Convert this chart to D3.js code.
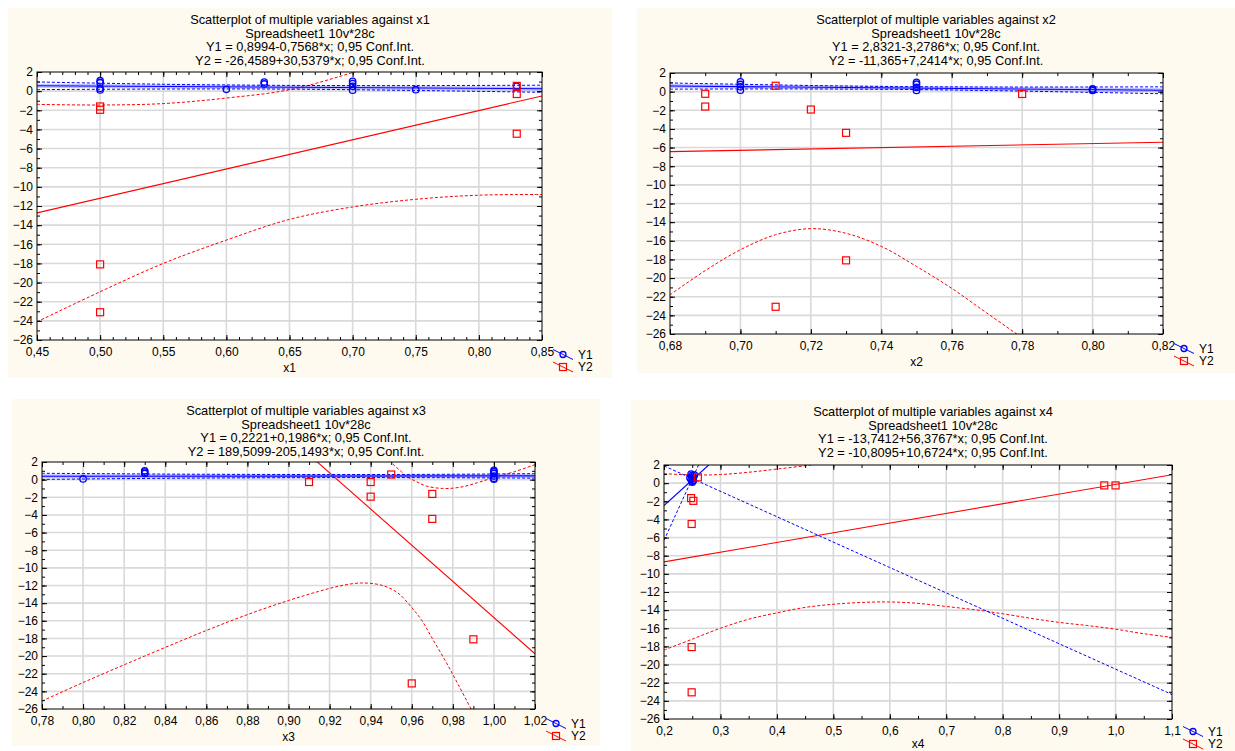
<!DOCTYPE html>
<html>
<head>
<meta charset="utf-8">
<script src="https://cdn.jsdelivr.net/npm/d3@7"></script>
<style>
body { margin: 0; background: #ffffff; }
svg { display: block; font-family: "Liberation Sans", Arial, sans-serif; }
</style>
</head>
<body>
<div id="chart"></div>
<script>
//------------------------------DATA------------------------------//
// y axis is the same on all four panels
var yTicks = [2, 0, -2, -4, -6, -8, -10, -12, -14, -16, -18, -20, -22, -24, -26];

// --- panel x1
var x1Ticks = [0.45, 0.50, 0.55, 0.60, 0.65, 0.70, 0.75, 0.80, 0.85];
var x1Title = ["Scatterplot of multiple variables against x1", "Spreadsheet1 10v*28c",
               "Y1 = 0,8994-0,7568*x; 0,95 Conf.Int.", "Y2 = -26,4589+30,5379*x; 0,95 Conf.Int."];
var x1Y1 = [[0.50,1.09],[0.50,0.88],[0.50,0.29],[0.50,0.12],[0.60,0.19],[0.63,0.95],[0.63,0.75],
            [0.70,1.03],[0.70,0.80],[0.70,0.50],[0.70,0.10],[0.75,0.15],[0.83,0.50]];
var x1Y2 = [[0.50,-1.6],[0.50,-1.95],[0.50,-18.1],[0.50,-23.1],[0.83,0.55],[0.83,-0.3],[0.83,-4.45]];
var x1Fit1 = [[0.45,0.559],[0.85,0.256]];
var x1Ci1Hi = [[0.45,0.96],[0.55,0.72],[0.65,0.60],[0.75,0.58],[0.85,0.62]];
var x1Ci1Lo = [[0.45,0.16],[0.55,0.22],[0.65,0.21],[0.75,0.07],[0.85,-0.12]];
var x1Fit2 = [[0.45,-12.72],[0.85,-0.50]];
var x1Ci2Hi = [[0.45,-1.38],[0.50,-1.45],[0.55,-1.3],[0.60,-0.72],[0.65,0.15],[0.70,1.95],[0.75,4.2]];
var x1Ci2Lo = [[0.45,-24.1],[0.50,-20.96],[0.55,-18.0],[0.60,-15.56],[0.65,-13.4],[0.70,-12.1],
               [0.75,-11.3],[0.80,-10.87],[0.85,-10.8]];

// --- panel x2
var x2Ticks = [0.68, 0.70, 0.72, 0.74, 0.76, 0.78, 0.80, 0.82];
var x2Title = ["Scatterplot of multiple variables against x2", "Spreadsheet1 10v*28c",
               "Y1 = 2,8321-3,2786*x; 0,95 Conf.Int.", "Y2 = -11,365+7,2414*x; 0,95 Conf.Int."];
var x2Y1 = [[0.70,1.05],[0.70,0.77],[0.70,0.52],[0.70,0.16],[0.75,1.0],[0.75,0.8],[0.75,0.45],
            [0.75,0.12],[0.80,0.3],[0.80,0.2],[0.80,0.12]];
var x2Y2 = [[0.69,-0.23],[0.69,-1.6],[0.71,0.63],[0.72,-1.92],[0.73,-4.42],[0.73,-18.1],[0.71,-23.08],[0.78,-0.25]];
var x2Fit1 = [[0.68,0.603],[0.82,0.144]];
var x2Ci1Hi = [[0.68,0.93],[0.70,0.79],[0.72,0.66],[0.745,0.54],[0.77,0.50],[0.80,0.50],[0.82,0.515]];
var x2Ci1Lo = [[0.68,0.27],[0.70,0.285],[0.72,0.284],[0.745,0.24],[0.77,0.12],[0.80,-0.08],[0.82,-0.23]];
var x2Fit2 = [[0.68,-6.44],[0.82,-5.43]];
var x2Ci2Hi = [];
var x2Ci2Lo = [[0.68,-21.8],[0.69,-19.2],[0.70,-16.96],[0.71,-15.35],[0.72,-14.7],[0.73,-15.2],
               [0.74,-16.6],[0.75,-18.75],[0.76,-21.1],[0.77,-23.76],[0.78,-26.4]];

// --- panel x3
var x3Ticks = [0.78, 0.80, 0.82, 0.84, 0.86, 0.88, 0.90, 0.92, 0.94, 0.96, 0.98, 1.00, 1.02];
var x3Title = ["Scatterplot of multiple variables against x3", "Spreadsheet1 10v*28c",
               "Y1 = 0,2221+0,1986*x; 0,95 Conf.Int.", "Y2 = 189,5099-205,1493*x; 0,95 Conf.Int."];
var x3Y1 = [[0.80,0.08],[0.83,1.0],[0.83,0.85],[0.83,0.7],[1.00,1.05],[1.00,0.9],[1.00,0.7],
            [1.00,0.4],[1.00,0.15],[1.00,0.05]];
var x3Y2 = [[0.91,-0.27],[0.94,-0.27],[0.94,-1.93],[0.95,0.58],[0.97,-1.62],[0.97,-4.45],[0.96,-23.1],[0.99,-18.1]];
var x3Fit1 = [[0.78,0.377],[1.02,0.425]];
var x3Ci1Hi = [[0.78,0.72],[0.85,0.62],[0.92,0.58],[0.97,0.60],[1.02,0.68]];
var x3Ci1Lo = [[0.78,0.03],[0.85,0.17],[0.92,0.23],[0.97,0.22],[1.02,0.17]];
var x3Fit2 = [[0.78,29.49],[1.02,-19.74]];
var x3Ci2Hi = [[0.945,3.6],[0.95,1.95],[0.954,1.1],[0.958,0.3],[0.962,-0.2],[0.967,-0.72],[0.975,-1.0],
               [0.983,-0.88],[0.992,-0.35],[1.00,0.25],[1.01,0.9],[1.02,1.7]];
var x3Ci2Lo = [[0.78,-25.1],[0.80,-23.0],[0.83,-20.0],[0.86,-17.1],[0.88,-15.3],[0.90,-13.7],[0.915,-12.65],
               [0.925,-12.05],[0.935,-11.72],[0.945,-11.95],[0.953,-12.8],[0.96,-14.5],[0.965,-16.0],
               [0.97,-18.0],[0.977,-20.8],[0.983,-23.4],[0.99,-26.5]];

// --- panel x4
var x4Ticks = [0.2, 0.3, 0.4, 0.5, 0.6, 0.7, 0.8, 0.9, 1.0, 1.1];
var x4Title = ["Scatterplot of multiple variables against x4", "Spreadsheet1 10v*28c",
               "Y1 = -13,7412+56,3767*x; 0,95 Conf.Int.", "Y2 = -10,8095+10,6724*x; 0,95 Conf.Int."];
var x4Y1 = [[0.248,1.0],[0.25,0.85],[0.252,0.7],[0.25,0.55],[0.248,0.4],[0.252,0.3],[0.25,0.2],
            [0.25,0.1],[0.254,0.9],[0.246,0.6]];
var x4Y2 = [[0.248,-1.65],[0.252,-1.95],[0.249,-4.5],[0.249,-18.07],[0.249,-23.06],[0.26,0.64],[0.98,-0.25],[1.0,-0.25]];
var x4Fit1 = [[0.2,-2.466],[0.2792,2]];
var x4Ci1Hi = [[0.2,-6.3],[0.25,0.5],[0.265,2.5]];
var x4Ci1Lo = [[0.2,1.9],[0.25,0.5],[0.4,-3.7],[0.6,-9.3],[0.8,-14.9],[1.1,-23.3]];
var x4Fit2 = [[0.2,-8.675],[1.1,0.93]];
var x4Ci2Hi = [[0.2,1.05],[0.25,0.9],[0.3,0.95],[0.35,1.2],[0.4,1.55],[0.46,2.0],[0.5,2.4]];
var x4Ci2Lo = [[0.2,-18.4],[0.25,-17.2],[0.3,-16.0],[0.35,-15.0],[0.4,-14.3],[0.45,-13.7],[0.5,-13.35],
               [0.55,-13.15],[0.6,-13.1],[0.65,-13.25],[0.7,-13.6],[0.75,-13.95],[0.8,-14.4],[0.85,-14.9],
               [0.9,-15.35],[0.95,-15.7],[1.0,-16.1],[1.05,-16.6],[1.1,-17.0]];

//-----------------------------LAYOUT-----------------------------//
// bg = cream panel [x, y, w, h], box = plot frame [left, top, right, bottom]
var panels = [
    { name: "x1", title: x1Title, xTicks: x1Ticks, minor: 0.01, dec: 2, band: true,
      y1: x1Y1, y2: x1Y2, fit1: x1Fit1, ci1: [x1Ci1Hi, x1Ci1Lo], fit2: x1Fit2, ci2: [x1Ci2Hi, x1Ci2Lo],
      bg: [8, 8, 604, 370], box: [37, 72, 542, 340] },
    { name: "x2", title: x2Title, xTicks: x2Ticks, minor: 0.01, dec: 2, band: true,
      y1: x2Y1, y2: x2Y2, fit1: x2Fit1, ci1: [x2Ci1Hi, x2Ci1Lo], fit2: x2Fit2, ci2: [x2Ci2Hi, x2Ci2Lo],
      bg: [637, 8, 598, 365], box: [670, 73, 1163, 334] },
    { name: "x3", title: x3Title, xTicks: x3Ticks, minor: 0.01, dec: 2, band: true,
      y1: x3Y1, y2: x3Y2, fit1: x3Fit1, ci1: [x3Ci1Hi, x3Ci1Lo], fit2: x3Fit2, ci2: [x3Ci2Hi, x3Ci2Lo],
      bg: [12, 399, 588, 347], box: [42, 462, 535, 709] },
    { name: "x4", title: x4Title, xTicks: x4Ticks, minor: 0.05, dec: 1, band: false,
      y1: x4Y1, y2: x4Y2, fit1: x4Fit1, ci1: [x4Ci1Hi, x4Ci1Lo], fit2: x4Fit2, ci2: [x4Ci2Hi, x4Ci2Lo],
      bg: [631, 400, 604, 351], box: [664, 465, 1172, 719] }
];

var BLUE = "#0000ff", RED = "#ff0000", CREAM = "#fffaef", GRID = "#d9d9d9";
var FONT = "'Liberation Sans', Arial, sans-serif";
var BOTTOM_MAX = 744; // keep the lowest texts inside the window

var svg = d3.select("#chart").append("svg")
    .attr("width", 1235)
    .attr("height", 751);

panels.forEach(function(p, i) {
    var L = p.box[0], T = p.box[1], R = p.box[2], B = p.box[3];
    var xs = p.xTicks;
    var x = d3.scaleLinear().domain([xs[0], xs[xs.length - 1]]).range([L, R]);
    var y = d3.scaleLinear().domain([-26, 2]).range([B, T]);
    var fmt = function(v) { return d3.format("." + p.dec + "f")(v).replace(".", ","); };

    var g = svg.append("g").attr("class", "panel-" + p.name);

    // background + titles
    g.append("rect")
        .attr("x", p.bg[0]).attr("y", p.bg[1])
        .attr("width", p.bg[2]).attr("height", p.bg[3])
        .attr("fill", CREAM);

    g.selectAll(".title")
        .data(p.title)
        .enter().append("text")
        .attr("class", "title")
        .attr("x", p.bg[0] + p.bg[2] / 2)
        .attr("y", function(d, k) { return p.bg[1] + 12 + k * 13.5; })
        .attr("dy", "0.35em")
        .attr("text-anchor", "middle")
        .style("font-size", "12.8px")
        .text(function(d) { return d; });

    g.append("rect")
        .attr("x", L).attr("y", T)
        .attr("width", R - L).attr("height", B - T)
        .attr("fill", "#ffffff");

    // grid
    g.selectAll(".vgrid")
        .data(xs.slice(1, -1))
        .enter().append("line")
        .attr("x1", function(d) { return x(d); }).attr("x2", function(d) { return x(d); })
        .attr("y1", T).attr("y2", B)
        .attr("stroke", GRID).attr("stroke-width", 1.6);
    g.selectAll(".hgrid")
        .data(yTicks.slice(1, -1))
        .enter().append("line")
        .attr("y1", function(d) { return y(d); }).attr("y2", function(d) { return y(d); })
        .attr("x1", L).attr("x2", R)
        .attr("stroke", GRID).attr("stroke-width", 1.6);

    // clipping for the fit lines
    var clipId = "clip-" + p.name;
    g.append("clipPath").attr("id", clipId)
        .append("rect")
        .attr("x", L).attr("y", T)
        .attr("width", R - L).attr("height", B - T);
    var lines = g.append("g").attr("clip-path", "url(#" + clipId + ")");

    var straight = d3.line()
        .x(function(d) { return x(d[0]); })
        .y(function(d) { return y(d[1]); });
    var smooth = d3.line()
        .x(function(d) { return x(d[0]); })
        .y(function(d) { return y(d[1]); })
        .curve(d3.curveCatmullRom.alpha(0.5));

    // Y2 (red)
    p.ci2.forEach(function(c) {
        if (!c.length) return;
        lines.append("path")
            .attr("d", smooth(c))
            .attr("fill", "none").attr("stroke", RED)
            .attr("stroke-width", 1).attr("stroke-dasharray", "3,2");
    });
    lines.append("path")
        .attr("d", straight(p.fit2))
        .attr("fill", "none").attr("stroke", RED).attr("stroke-width", 1.1);

    // Y1 (blue)
    if (p.band) {
        lines.append("path")
            .attr("d", straight(p.fit1))
            .attr("fill", "none").attr("stroke", "#8c8cff")
            .attr("stroke-opacity", 0.55).attr("stroke-width", 4);
    }
    p.ci1.forEach(function(c) {
        lines.append("path")
            .attr("d", p.band ? smooth(c) : straight(c))
            .attr("fill", "none").attr("stroke", BLUE)
            .attr("stroke-width", 1).attr("stroke-dasharray", "3,2");
    });
    lines.append("path")
        .attr("d", straight(p.fit1))
        .attr("fill", "none").attr("stroke", BLUE).attr("stroke-width", 1.1);

    // points
    g.selectAll(".y1pt")
        .data(p.y1)
        .enter().append("circle")
        .attr("cx", function(d) { return x(d[0]); })
        .attr("cy", function(d) { return y(d[1]); })
        .attr("r", 3.2)
        .attr("fill", "none").attr("stroke", BLUE).attr("stroke-width", 1.3);
    g.selectAll(".y2pt")
        .data(p.y2)
        .enter().append("rect")
        .attr("x", function(d) { return x(d[0]) - 3.5; })
        .attr("y", function(d) { return y(d[1]) - 3.5; })
        .attr("width", 7).attr("height", 7)
        .attr("fill", "none").attr("stroke", RED).attr("stroke-width", 1.2);

    // axes: major ticks inward on all sides, minor ticks in between
    var xMinor = d3.range(xs[0], xs[xs.length - 1] + p.minor / 2, p.minor);
    var yMinor = d3.range(-26, 2.5, 1);

    var axes = [
        { ax: d3.axisBottom(x).tickValues(xs).tickFormat(fmt), tr: [0, B], pad: 7 },
        { ax: d3.axisTop(x).tickValues(xs).tickFormat(""), tr: [0, T], pad: 4 },
        { ax: d3.axisLeft(y).tickValues(yTicks).tickFormat(d3.format("d")), tr: [L, 0], pad: 4 },
        { ax: d3.axisRight(y).tickValues(yTicks).tickFormat(""), tr: [R, 0], pad: 4 },
        { ax: d3.axisBottom(x).tickValues(xMinor).tickFormat("").tickSize(-3), tr: [0, B], minor: true },
        { ax: d3.axisTop(x).tickValues(xMinor).tickFormat("").tickSize(-3), tr: [0, T], minor: true },
        { ax: d3.axisLeft(y).tickValues(yMinor).tickFormat("").tickSize(-3), tr: [L, 0], minor: true },
        { ax: d3.axisRight(y).tickValues(yMinor).tickFormat("").tickSize(-3), tr: [R, 0], minor: true }
    ];
    axes.forEach(function(a) {
        if (!a.minor) a.ax.tickSize(-5).tickPadding(a.pad);
        var ag = g.append("g")
            .attr("transform", "translate(" + a.tr[0] + "," + a.tr[1] + ")")
            .call(a.ax);
        ag.select(".domain").remove();
        ag.selectAll("line").attr("stroke", "#000");
        ag.selectAll("text")
            .style("font-family", FONT)
            .style("font-size", "12px")
            .attr("fill", "#000");
    });

    // frame
    g.append("rect")
        .attr("x", L).attr("y", T)
        .attr("width", R - L).attr("height", B - T)
        .attr("fill", "none").attr("stroke", "#000").attr("stroke-width", 1);

    // x axis label
    g.append("text")
        .attr("x", (L + R) / 2)
        .attr("y", Math.min(B + 28, BOTTOM_MAX))
        .attr("dy", "0.35em")
        .attr("text-anchor", "middle")
        .style("font-size", "12px")
        .text(p.name);

    // legend
    var y2Row = Math.min(B + 27, BOTTOM_MAX);
    var leg = [{ k: "Y1", c: BLUE, cy: y2Row - 12.5 }, { k: "Y2", c: RED, cy: y2Row }];
    leg.forEach(function(l) {
        var cx = R + 21, cy = l.cy;
        g.append("line")
            .attr("x1", cx - 10).attr("y1", cy - 5)
            .attr("x2", cx + 10).attr("y2", cy + 5)
            .attr("stroke", l.c).attr("stroke-width", 1);
        if (l.k == "Y1") {
            g.append("circle").attr("cx", cx).attr("cy", cy).attr("r", 3)
                .attr("fill", "none").attr("stroke", l.c).attr("stroke-width", 1.3);
        } else {
            g.append("rect").attr("x", cx - 3.5).attr("y", cy - 3.5)
                .attr("width", 7).attr("height", 7)
                .attr("fill", "none").attr("stroke", l.c).attr("stroke-width", 1.2);
        }
        g.append("text")
            .attr("x", R + 36).attr("y", cy)
            .attr("dy", "0.35em")
            .style("font-size", "12px")
            .text(l.k);
    });
});
</script>
</body>
</html>
